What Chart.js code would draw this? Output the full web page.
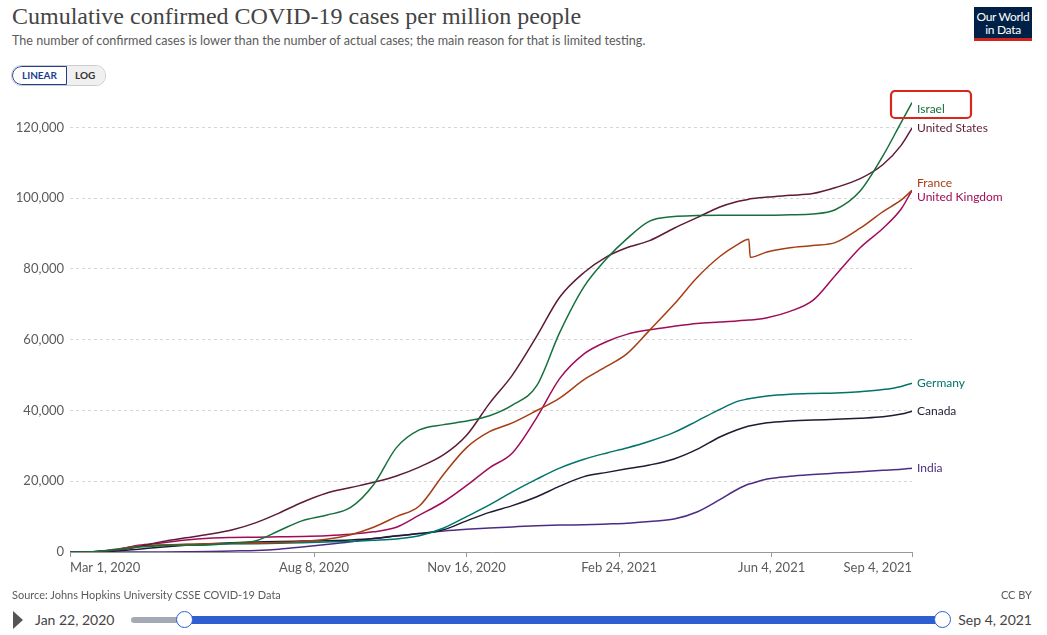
<!DOCTYPE html>
<html>
<head>
<meta charset="utf-8">
<script src="https://cdn.jsdelivr.net/npm/chart.js@4.4.0/dist/chart.umd.min.js"></script>
<style>
  body { margin: 0; width: 1047px; height: 635px; background: #fff; font-family: Lato, sans-serif; position: relative; overflow: hidden; }
  #title { position: absolute; left: 12px; top: 3px; font-family: "Liberation Serif", serif; font-size: 24px; color: #444; white-space: nowrap; }
  #subtitle { position: absolute; left: 12px; top: 33px; font-size: 12.6px; color: #5b5b5b; white-space: nowrap; }
  #toggle { position: absolute; left: 11px; top: 65px; height: 19px; display: flex; border: 1px solid #ccc; border-radius: 10px; overflow: hidden; font-size: 10px; font-weight: bold; }
  #toggle .lin { padding: 0 9px; line-height: 17px; color: #1d3d8f; border: 1px solid #1d3d8f; border-radius: 10px 0 0 10px; background: #fff; }
  #toggle .log { padding: 0 10px 0 8px; line-height: 19px; color: #333; background: #f0f0f0; }
  #logo { position: absolute; left: 974px; top: 7px; width: 58px; height: 34px; background: #002147; color: #fff; font-size: 12px; line-height: 13px; text-align: center; box-sizing: border-box; padding-top: 3px; border-bottom: 3px solid #ce261e; letter-spacing: -0.3px; }
  #chartbox { position: absolute; left: 0; top: 90px; width: 1047px; height: 500px; }
  #source { position: absolute; left: 12px; top: 588px; font-size: 11px; color: #5b5b5b; }
  #cc { position: absolute; right: 15px; top: 588px; font-size: 11px; color: #5b5b5b; }
  #play { position: absolute; left: 13px; top: 611px; width: 0; height: 0; border-left: 10px solid #555; border-top: 9px solid transparent; border-bottom: 9px solid transparent; }
  #start { position: absolute; left: 35px; top: 611px; font-size: 14px; color: #444; }
  #end { position: absolute; right: 15px; top: 611px; font-size: 14px; color: #444; }
  #track { position: absolute; left: 131px; top: 617px; width: 811px; height: 6px; background: #a3a9b5; border-radius: 3px; }
  #fill { position: absolute; left: 184px; top: 616px; width: 758px; height: 8px; background: #2e5fd1; }
  .knob { position: absolute; top: 611px; width: 15px; height: 15px; border-radius: 50%; background: #fff; border: 1.5px solid #2e5fd1; }
</style>
</head>
<body>
<div id="title">Cumulative confirmed COVID-19 cases per million people</div>
<div id="subtitle">The number of confirmed cases is lower than the number of actual cases; the main reason for that is limited testing.</div>
<div id="toggle"><span class="lin">LINEAR</span><span class="log">LOG</span></div>
<div id="logo">Our World<br>in Data</div>
<div id="chartbox"><canvas id="chart" width="1047" height="500"></canvas></div>
<div id="source">Source: Johns Hopkins University CSSE COVID-19 Data</div>
<div id="cc">CC BY</div>
<div id="play"></div>
<div id="start">Jan 22, 2020</div>
<div id="track"></div>
<div id="fill"></div>
<div class="knob" style="left:176px"></div>
<div class="knob" style="left:934px"></div>
<div id="end">Sep 4, 2021</div>

<script>
// days since Mar 1, 2020
const days = [0, 15, 30, 45, 61, 76, 91, 106, 122, 137, 152, 168, 184, 199, 214, 229, 245, 260, 275, 290,
  306, 321, 337, 352, 365, 380, 396, 411, 426, 437, 445, 446, 457, 472, 487, 502, 518, 533, 545, 552];

const tickDays = [0, 160, 260, 360, 460, 552];
const tickLabels = ["Mar 1, 2020", "Aug 8, 2020", "Nov 16, 2020", "Feb 24, 2021", "Jun 4, 2021", "Sep 4, 2021"];
const yTicks = [0, 20000, 40000, 60000, 80000, 100000, 120000];

const israel = [0, 100, 600, 1400, 1800, 1900, 2000, 2500, 3200, 6000, 8800, 10400, 12600, 19000, 29500, 34500, 36000, 37000, 38500, 41500,
  47000, 62000, 75000, 83000, 88500, 93500, 94800, 95100, 95200, 95200, 95200, 95200, 95200, 95300, 95500, 96800, 102000, 112000, 121500, 127000];
const unitedStates = [0, 100, 500, 1500, 3000, 4000, 5000, 6200, 8300, 11000, 14000, 16600, 18200, 19700, 21500, 24000, 27500, 33000, 42000, 50000,
  61000, 72000, 79000, 83500, 86000, 88000, 91500, 94500, 97500, 99000, 99700, 99800, 100300, 100800, 101300, 103000, 105500, 109500, 115000, 119800];
const france = [0, 50, 700, 1700, 2000, 2200, 2300, 2400, 2500, 2700, 3000, 3600, 4900, 7000, 10000, 13000, 22000, 29500, 34000, 36500,
  40000, 43500, 48700, 52500, 56000, 62700, 70000, 77500, 83500, 86700, 88400, 83300, 84800, 86000, 86600, 87500, 91500, 96200, 99500, 102200];
const unitedKingdom = [0, 100, 600, 1900, 2600, 3400, 3900, 4100, 4200, 4300, 4400, 4600, 5000, 5700, 7000, 10400, 14200, 18800, 23800, 28000,
  38000, 49000, 56000, 59500, 61500, 62800, 63800, 64600, 65000, 65300, 65600, 65600, 66200, 68000, 71100, 78300, 86000, 91500, 97000, 102200];
const germany = [0, 100, 800, 1600, 2000, 2100, 2200, 2300, 2350, 2500, 2600, 2800, 3000, 3300, 3700, 4600, 6800, 10000, 13300, 17000,
  20600, 23700, 26200, 28000, 29400, 31300, 33800, 37000, 40300, 42500, 43300, 43400, 44100, 44600, 44800, 44900, 45300, 45900, 46800, 47700];
const canada = [0, 30, 250, 800, 1400, 1900, 2300, 2600, 2800, 3000, 3100, 3200, 3400, 3800, 4500, 5200, 6300, 8800, 11200, 13100,
  15600, 18600, 21300, 22500, 23500, 24600, 26300, 29000, 32500, 34500, 35600, 35700, 36500, 37000, 37300, 37500, 37800, 38200, 39000, 39800];
const india = [0, 0, 0, 10, 30, 70, 140, 300, 450, 800, 1400, 2100, 2900, 3800, 4600, 5200, 5900, 6400, 6800, 7100,
  7400, 7600, 7700, 7900, 8100, 8600, 9300, 11300, 14800, 17600, 19200, 19300, 20600, 21400, 21900, 22300, 22700, 23100, 23400, 23700];

const series = [
  { label: "Israel", data: israel, color: "#16703c" },
  { label: "United States", data: unitedStates, color: "#5e1a36" },
  { label: "France", data: france, color: "#a63d14" },
  { label: "United Kingdom", data: unitedKingdom, color: "#a00c57" },
  { label: "Germany", data: germany, color: "#00746a" },
  { label: "Canada", data: canada, color: "#1c1c33" },
  { label: "India", data: india, color: "#4c2c82" },
];

// line-end labels, nudged apart so they don't overlap
const endLabels = {
  id: "endLabels",
  afterDatasetsDraw(chart) {
    const ctx = chart.ctx;
    const area = chart.chartArea;
    const items = chart.data.datasets.map((ds, i) => {
      const pts = chart.getDatasetMeta(i).data;
      const p = pts[pts.length - 1];
      return { text: ds.label, color: ds.borderColor, x: p.x, y: p.y, ly: p.y };
    });
    items.sort((a, b) => a.y - b.y);
    const gap = 14;
    for (let k = 0; k < 20; k++) {
      for (let i = 0; i < items.length - 1; i++) {
        const a = items[i], b = items[i + 1];
        if (b.ly - a.ly < gap) {
          const mid = (a.ly + b.ly) / 2;
          a.ly = mid - gap / 2;
          b.ly = mid + gap / 2;
        }
      }
    }
    items.forEach((it) => { it.ly = Math.max(it.ly, area.top + 17); });
    ctx.save();
    ctx.font = "12px Lato";
    ctx.textBaseline = "middle";
    items.forEach((it) => {
      ctx.fillStyle = it.color;
      ctx.fillText(it.text, it.x + 5, it.ly);
      if (it.text === "Israel") {
        ctx.strokeStyle = "#d8281c";
        ctx.lineWidth = 2.2;
        ctx.beginPath();
        ctx.roundRect(it.x - 21, it.ly - 18, 80, 27, 4);
        ctx.stroke();
      }
    });
    ctx.restore();
  },
};

new Chart(document.getElementById("chart"), {
  type: "line",
  data: {
    labels: days,
    datasets: series.map((s) => ({
      label: s.label,
      data: s.data.map((v, i) => ({ x: days[i], y: v })),
      borderColor: s.color,
      borderWidth: 1.5,
      pointRadius: 0,
      cubicInterpolationMode: "monotone",
      fill: false,
    })),
  },
  options: {
    responsive: false,
    animation: false,
    layout: { padding: { left: 0, right: 135, top: 2, bottom: 0 } },
    plugins: { legend: { display: false }, tooltip: { enabled: false } },
    scales: {
      x: {
        type: "linear",
        min: 0,
        max: 552,
        afterBuildTicks: (axis) => { axis.ticks = tickDays.map((v) => ({ value: v })); },
        afterFit: (axis) => { axis.height = 38; axis.paddingLeft = 0; axis.paddingRight = 0; },
        grid: { drawOnChartArea: false, drawTicks: true, tickLength: 5, color: "#999" },
        border: { color: "#999" },
        ticks: {
          align: "inner",
          maxRotation: 0,
          autoSkip: false,
          padding: 3,
          color: "#5b5b5b",
          font: { family: "Lato", size: 13 },
          callback: (v) => tickLabels[tickDays.indexOf(v)],
        },
      },
      y: {
        min: 0,
        max: 130000,
        afterBuildTicks: (axis) => { axis.ticks = yTicks.map((v) => ({ value: v })); },
        afterFit: (axis) => { axis.width = 70; axis.paddingTop = 0; axis.paddingBottom = 0; },
        border: { display: false, dash: [3, 3] },
        grid: { color: "#d6d6d6", drawTicks: false },
        ticks: {
          padding: 6,
          color: "#5b5b5b",
          font: { family: "Lato", size: 13 },
          callback: (v) => v.toLocaleString("en-US"),
        },
      },
    },
  },
  plugins: [endLabels],
});
</script>
</body>
</html>
